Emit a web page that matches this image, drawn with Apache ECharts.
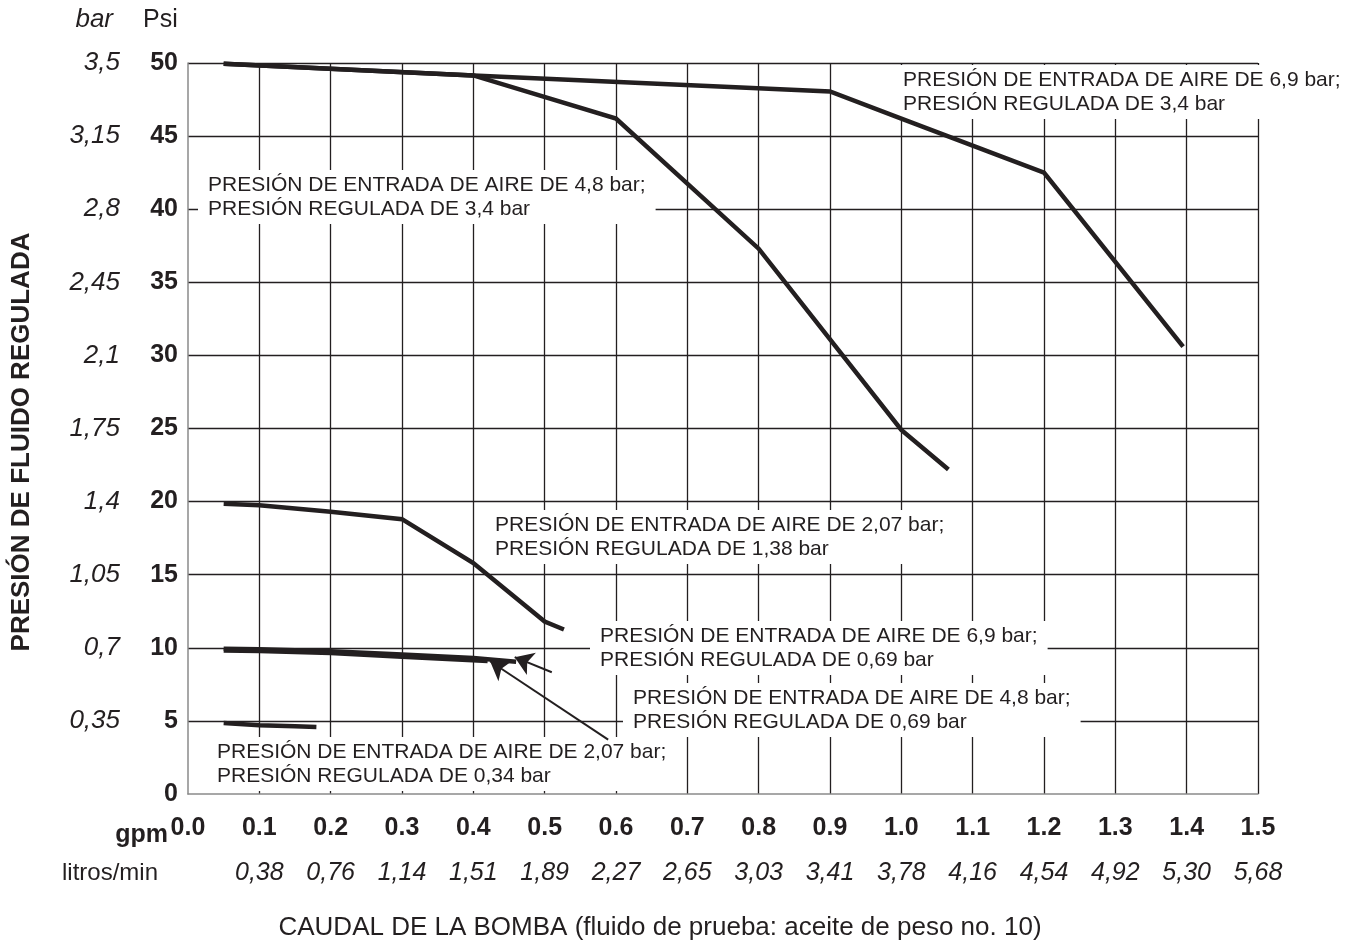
<!DOCTYPE html>
<html><head><meta charset="utf-8">
<script src="https://cdn.jsdelivr.net/npm/echarts@6/dist/echarts.min.js"></script>
<style>html,body{margin:0;padding:0;background:#fff}#c{width:1359px;height:942px}</style>
</head><body><div id="c"></div>
<script>
// ---- data ----
const gpmTicks = ['0.0','0.1','0.2','0.3','0.4','0.5','0.6','0.7','0.8','0.9','1.0','1.1','1.2','1.3','1.4','1.5'];
const litrosTicks = ['','0,38','0,76','1,14','1,51','1,89','2,27','2,65','3,03','3,41','3,78','4,16','4,54','4,92','5,30','5,68'];
const psiTicks = ['0','5','10','15','20','25','30','35','40','45','50'];
const barTicks = ['','0,35','0,7','1,05','1,4','1,75','2,1','2,45','2,8','3,15','3,5'];

const air69_reg34 = [[0.05,49.95],[0.4,49.15],[0.9,48.05],[1.0,46.2],[1.2,42.5],[1.395,30.6]];
const air48_reg34 = [[0.05,49.95],[0.4,49.15],[0.6,46.2],[0.8,37.3],[1.0,24.9],[1.066,22.2]];
const air207_reg138 = [[0.05,19.86],[0.1,19.75],[0.2,19.3],[0.3,18.8],[0.4,15.8],[0.5,11.8],[0.527,11.25]];
const air69_reg069 = [[0.05,9.93],[0.1,9.9],[0.2,9.77],[0.3,9.55],[0.4,9.3],[0.46,9.05]];
const air48_reg069 = [[0.05,9.82],[0.1,9.78],[0.2,9.65],[0.3,9.38],[0.42,9.1]];
const air207_reg034 = [[0.05,4.86],[0.1,4.7],[0.15,4.63],[0.18,4.58]];

const arrow69 = [[0.51,8.33],[0.458,9.36]];
const arrow48 = [[0.589,3.72],[0.4235,9.08]];

const notes = [
  'PRESIÓN DE ENTRADA DE AIRE DE 6,9 bar;\nPRESIÓN REGULADA DE 3,4 bar',
  'PRESIÓN DE ENTRADA DE AIRE DE 4,8 bar;\nPRESIÓN REGULADA DE 3,4 bar',
  'PRESIÓN DE ENTRADA DE AIRE DE 2,07 bar;\nPRESIÓN REGULADA DE 1,38 bar',
  'PRESIÓN DE ENTRADA DE AIRE DE 6,9 bar;\nPRESIÓN REGULADA DE 0,69 bar',
  'PRESIÓN DE ENTRADA DE AIRE DE 4,8 bar;\nPRESIÓN REGULADA DE 0,69 bar',
  'PRESIÓN DE ENTRADA DE AIRE DE 2,07 bar;\nPRESIÓN REGULADA DE 0,34 bar'
];

// ---- styles ----
const INK = '#231f20';
const FF = '"Liberation Sans", Arial, Helvetica, sans-serif';
const notePos = [[893,65],[198,170],[485,510],[590,621],[623,683],[207,737]];

const chart = echarts.init(document.getElementById('c'), null, {renderer:'canvas'});

function lineSeries(name, data, extra) {
  return Object.assign({
    name, type:'line', data, xAxisIndex:0, yAxisIndex:0,
    symbol:'none', showSymbol:false, silent:true,
    lineStyle:{color:INK, width:4.5, join:'miter', cap:'butt'}
  }, extra || {});
}

const graphics = notes.map((t,i)=>({
  type:'text', x:notePos[i][0], y:notePos[i][1], z:1, silent:true,
  style:{text:t, fontSize:21, fontFamily:FF, fill:INK, backgroundColor:'#fff',
         padding:[3,10,3,10], lineHeight:24, align:'left', verticalAlign:'top'}
}));
graphics.push(
  {type:'text', x:113, y:20, style:{text:'bar', fontSize:26, fontStyle:'italic', fontFamily:FF, fill:INK, align:'right', verticalAlign:'middle'}},
  {type:'text', x:143, y:20, style:{text:'Psi', fontSize:25, fontFamily:FF, fill:INK, align:'left', verticalAlign:'middle'}},
  {type:'text', x:22, y:442, rotation:Math.PI/2, style:{text:'PRESIÓN DE FLUIDO REGULADA', fontSize:26, fontWeight:'bold', fontFamily:FF, fill:INK, align:'center', verticalAlign:'middle'}},
  {type:'text', x:168, y:835, style:{text:'gpm', fontSize:25, fontWeight:'bold', fontFamily:FF, fill:INK, align:'right', verticalAlign:'middle'}},
  {type:'text', x:62, y:873, style:{text:'litros/min', fontSize:24, fontFamily:FF, fill:INK, align:'left', verticalAlign:'middle'}},
  {type:'text', x:660, y:928, style:{text:'CAUDAL DE LA BOMBA (fluido de prueba: aceite de peso no. 10)', fontSize:26, fontFamily:FF, fill:INK, align:'center', verticalAlign:'middle'}}
);

const option = {
  animation:false,
  backgroundColor:'#fff',
  grid:{left:188, right:101, top:63, bottom:148, containLabel:false},
  xAxis:[
    {type:'value', min:0, max:1.5, interval:0.1, position:'bottom',
     axisLine:{show:true, lineStyle:{color:'#8a8a8a', width:1.5}},
     axisTick:{show:false},
     axisLabel:{margin:22, fontSize:25, fontWeight:'bold', fontFamily:FF, color:INK,
       formatter:v=>gpmTicks[Math.round(v*10)]},
     splitLine:{show:true, showMinLine:false, lineStyle:{color:INK, width:1.3}}},
    {type:'value', min:0, max:1.5, interval:0.1, position:'bottom', offset:45,
     axisLine:{show:false}, axisTick:{show:false}, splitLine:{show:false},
     axisLabel:{margin:22, fontSize:25, fontStyle:'italic', fontFamily:FF, color:INK,
       formatter:v=>litrosTicks[Math.round(v*10)]}}
  ],
  yAxis:[
    {type:'value', min:0, max:50, interval:5, position:'left',
     axisLine:{show:true, lineStyle:{color:'#8a8a8a', width:1.5}},
     axisTick:{show:false},
     axisLabel:{margin:10, fontSize:25, fontWeight:'bold', fontFamily:FF, color:INK,
       formatter:v=>psiTicks[Math.round(v/5)]},
     splitLine:{show:true, showMinLine:false, lineStyle:{color:INK, width:1.3}}},
    {type:'value', min:0, max:50, interval:5, position:'left', offset:60,
     axisLine:{show:false}, axisTick:{show:false}, splitLine:{show:false},
     axisLabel:{margin:8, fontSize:26, fontStyle:'italic', fontFamily:FF, color:INK,
       formatter:v=>barTicks[Math.round(v/5)]}}
  ],
  series:[
    lineSeries('6,9 bar / 3,4 bar', air69_reg34),
    lineSeries('4,8 bar / 3,4 bar', air48_reg34),
    lineSeries('2,07 bar / 1,38 bar', air207_reg138),
    lineSeries('6,9 bar / 0,69 bar', air69_reg069, {
      markLine:{silent:true, symbol:['none','arrow'], symbolSize:18, animation:false,
        label:{show:false}, lineStyle:{color:INK, width:2, type:'solid'},
        emphasis:{disabled:true},
        data:[
          [{coord:arrow69[0]},{coord:arrow69[1]}],
          [{coord:arrow48[0]},{coord:arrow48[1]}]
        ]}
    }),
    lineSeries('4,8 bar / 0,69 bar', air48_reg069),
    lineSeries('2,07 bar / 0,34 bar', air207_reg034)
  ],
  graphic:{elements:graphics}
};
chart.setOption(option);
</script>
</body></html>
